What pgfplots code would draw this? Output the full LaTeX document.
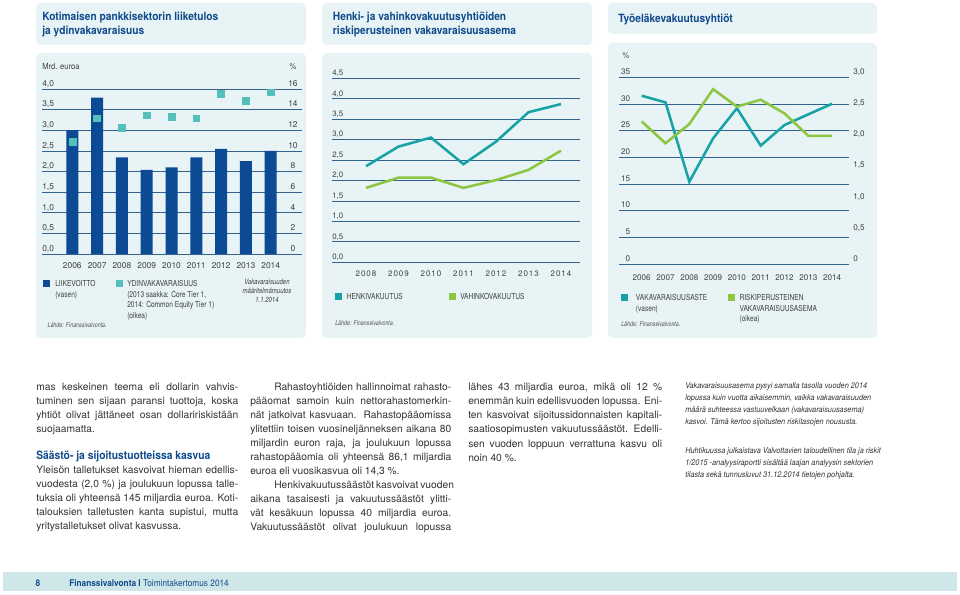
\documentclass[border=0pt]{standalone}
\usepackage{fontspec}
\setmainfont{TeX Gyre Heros}
\newfontfamily\cnd[FakeStretch=0.8]{TeX Gyre Heros}
\newfontfamily\ttl[FakeStretch=0.9]{TeX Gyre Heros}
\usepackage{pgfplots}
\pgfplotsset{compat=1.18}

\definecolor{panel}{HTML}{E7F3F5}
\definecolor{fbar}{HTML}{CFE7E9}
\definecolor{tblue}{HTML}{0F4A8C}
\definecolor{bar}{HTML}{0C4A94}
\definecolor{sq}{HTML}{55BFBC}
\definecolor{teal}{HTML}{17A3A5}
\definecolor{grn}{HTML}{8DC641}
\definecolor{gridc}{HTML}{33628F}
\definecolor{txt}{HTML}{333333}
\definecolor{lab}{HTML}{404040}
\definecolor{src}{HTML}{555555}

\newlength\pxu \setlength\pxu{0.75pt}

% fonts
\newcommand\fT{\ttl\bfseries\fontsize{8.5pt}{10pt}\selectfont}
\newcommand\fL{\cnd\fontsize{6.2pt}{7pt}\selectfont}
\newcommand\fS{\cnd\itshape\fontsize{5pt}{6pt}\selectfont}
\newcommand\fV{\cnd\itshape\fontsize{5.6pt}{6pt}\selectfont}
\newcommand\fB{\fontsize{7.7pt}{9pt}\selectfont}
\newcommand\fI{\ttl\itshape\fontsize{6.1pt}{7pt}\selectfont}
\newcommand\fC{\ttl\fontsize{6.3pt}{7pt}\selectfont}

% text lines, x/y in px
\newcommand\Tx[3]{\node[anchor=base west] at (#1,#2) {#3};}
\newcommand\Jl[4]{\node[anchor=base west] at (#1,#2) {\makebox[#3\pxu][s]{#4}};}

\pgfplotsset{
  pnl/.style={scale only axis, anchor=south west, clip=false,
    axis line style={draw=none}, tick style={draw=none}, major tick length=0pt,
    tick label style={font=\fontsize{6.3pt}{7pt}\selectfont, text=lab},
    yticklabel style={anchor=base west, inner sep=0pt, yshift=2pt},
    xticklabel style={anchor=base, inner sep=0pt, yshift=-11pt}},
  grd/.style={ymajorgrids, grid style={draw=gridc, line width=0.55pt}},
}

\begin{document}
\begin{tikzpicture}
\begin{scope}[x=0.75pt,y=-0.75pt]
\path[fill=white, use as bounding box] (0,0) rectangle (960,595);
% panels
\fill[panel, rounded corners=3.5pt] (36,3) rectangle (306,45);
\fill[panel, rounded corners=3.5pt] (36,53) rectangle (306,338);
\fill[panel, rounded corners=3.5pt] (322,3) rectangle (592,45);
\fill[panel, rounded corners=3.5pt] (322,53) rectangle (592,338);
\fill[panel, rounded corners=3.5pt] (608,3) rectangle (877,34);
\fill[panel, rounded corners=3.5pt] (608,43) rectangle (877,338);
% footer bar
\fill[fbar] (3,572) rectangle (957,591);
\end{scope}

% ---- panel 1: liiketulos (left) ----
\begin{axis}[pnl, grd, at={(31.5pt,-190.5pt)}, width=195pt, height=123.75pt,
  xmin=-1.222, xmax=9.262, ymin=0, ymax=4,
  ytick={0,0.5,1,1.5,2,2.5,3,3.5,4},
  yticklabels={{0,0},{0,5},{1,0},{1,5},{2,0},{2,5},{3,0},{3,5},{4,0}},
  xtick={0,1,2,3,4,5,6,7,8},
  xticklabels={2006,2007,2008,2009,2010,2011,2012,2013,2014},
  ybar, bar width=9pt]
\addplot[fill=bar, draw=none] coordinates {
  (0,3.00) (1,3.79) (2,2.34) (3,2.04) (4,2.10) (5,2.34) (6,2.55) (7,2.25) (8,2.50)};
\end{axis}
% ---- panel 1: ydinvakavaraisuus (right) ----
\begin{axis}[pnl, at={(31.5pt,-190.5pt)}, width=195pt, height=123.75pt,
  xmin=-1.222, xmax=9.262, ymin=0, ymax=16,
  ytick={0,2,4,6,8,10,12,14,16},
  yticklabels={0,2,4,6,8,10,12,14,16},
  yticklabel pos=right, yticklabel style={anchor=base, xshift=-6.75pt},
  xtick=\empty]
\addplot[only marks, mark=square*, mark size=2.6pt, color=sq] coordinates {
  (0,10.86) (1,13.16) (2,12.22) (3,13.45) (4,13.29) (5,13.16) (6,15.52) (7,14.87) (8,15.68)};
\end{axis}

% ---- panel 2 ----
\begin{axis}[pnl, grd, at={(249pt,-196.725pt)}, width=186pt, height=138pt,
  xmin=-1.046, xmax=6.585, ymin=0, ymax=4.5,
  ytick={0,0.5,1,1.5,2,2.5,3,3.5,4,4.5},
  yticklabels={{0,0},{0,5},{1,0},{1,5},{2,0},{2,5},{3,0},{3,5},{4,0},{4,5}},
  yticklabel style={font=\fontsize{5.9pt}{7pt}\selectfont},
  xtick={0,1,2,3,4,5,6},
  xticklabels={2008,2009,2010,2011,2012,2013,2014},
  xticklabel style={font=\fontsize{6pt}{7pt}\selectfont\addfontfeature{LetterSpace=12}}]
\addplot[teal, line width=1.9pt] coordinates {
  (0,2.35) (1,2.83) (2,3.05) (3,2.40) (4,2.95) (5,3.67) (6,3.87)};
\addplot[grn, line width=1.9pt] coordinates {
  (0,1.82) (1,2.07) (2,2.07) (3,1.82) (4,2.01) (5,2.26) (6,2.73)};
\end{axis}

% ---- panel 3: vakavaraisuusaste (left) ----
\begin{axis}[pnl, grd, at={(464.25pt,-198pt)}, width=172.5pt, height=140pt,
  xmin=-0.954, xmax=8.71, ymin=0, ymax=35,
  ytick={0,5,10,15,20,25,30,35},
  yticklabels={0,5,10,15,20,25,30,35},
  yticklabel style={anchor=base east, xshift=8.6pt},
  tick label style={font=\fontsize{6.1pt}{7pt}\selectfont},
  xticklabel style={yshift=-1.5pt},
  xtick={0,1,2,3,4,5,6,7,8},
  xticklabels={2006,2007,2008,2009,2010,2011,2012,2013,2014}]
\addplot[teal, line width=1.9pt] coordinates {
  (0,31.55) (1,30.3) (2,15.43) (3,23.56) (4,29.2) (5,22.2) (6,26.06) (7,28.06) (8,30.05)};
\end{axis}
% ---- panel 3: riskiperusteinen (right) ----
\begin{axis}[pnl, at={(464.25pt,-198pt)}, width=172.5pt, height=140pt,
  xmin=-0.954, xmax=8.71, ymin=0, ymax=3,
  ytick={0,0.5,1,1.5,2,2.5,3},
  yticklabels={0,{0,5},{1,0},{1,5},{2,0},{2,5},{3,0}},
  tick label style={font=\fontsize{6.1pt}{7pt}\selectfont},
  yticklabel pos=right, yticklabel style={anchor=base west, xshift=3pt},
  xtick=\empty]
\addplot[grn, line width=1.9pt] coordinates {
  (0,2.29) (1,1.94) (2,2.25) (3,2.81) (4,2.53) (5,2.64) (6,2.42) (7,2.06) (8,2.06)};
\end{axis}

\begin{scope}[x=0.75pt,y=-0.75pt, every node/.style={inner sep=0pt}]
% titles
\begin{scope}[font=\fT, text=tblue]
\Tx{42}{20.7}{Kotimaisen pankkisektorin liiketulos}
\Tx{42}{34.9}{ja ydinvakavaraisuus}
\Tx{332.7}{20.7}{Henki- ja vahinkovakuutusyhtiöiden}
\Tx{332.7}{34.9}{riskiperusteinen vakavaraisuusasema}
\Tx{618}{22.7}{Työeläkevakuutusyhtiöt}
\end{scope}

% panel 1 labels and legend
\begin{scope}[font=\fC, text=lab]
\Tx{42}{69.5}{Mrd. euroa}
\node[anchor=base] at (293,69.5) {\%};
\node[anchor=base] at (626,59) {\%};
\end{scope}
\fill[bar] (43,280) rectangle (50,287);
\fill[sq] (116,280) rectangle (123,287);
\begin{scope}[font=\fL, text=lab]
\Tx{55}{286.5}{LIIKEVOITTO}
\Tx{55}{297.2}{(vasen)}
\Tx{127}{286.5}{YDINVAKAVARAISUUS}
\Tx{127}{297.2}{(2013 saakka: Core Tier 1,}
\Tx{127}{307.9}{2014: Common Equity Tier 1)}
\Tx{127}{318.6}{(oikea)}
\end{scope}
\begin{scope}[font=\fV, text=lab]
\node[anchor=base] at (267,284.5) {Vakavaraisuuden};
\node[anchor=base] at (267,293.6) {määritelmämuutos};
\node[anchor=base] at (267,302.7) {1.1.2014};
\end{scope}

% panel 2 legend
\fill[teal] (334.5,293) rectangle (341.5,300);
\fill[grn] (448.5,293) rectangle (455.5,300);
\begin{scope}[font=\fL, text=lab]
\Tx{346.7}{299.5}{HENKIVAKUUTUS}
\Tx{460}{299.5}{VAHINKOVAKUUTUS}
\end{scope}

% panel 3 legend
\fill[teal] (620.5,294) rectangle (627.5,301);
\fill[grn] (727.5,294) rectangle (734.5,301);
\begin{scope}[font=\fL, text=lab]
\Tx{635.7}{300.3}{VAKAVARAISUUSASTE}
\Tx{635.7}{311}{(vasen)}
\Tx{739.3}{300.3}{RISKIPERUSTEINEN}
\Tx{739.3}{311}{VAKAVARAISUUSASEMA}
\Tx{739.3}{321.7}{(oikea)}
\end{scope}

% sources
\begin{scope}[font=\fS, text=src]
\Tx{47.3}{327.5}{Lähde: Finanssivalvonta.}
\Tx{335}{325.5}{Lähde: Finanssivalvonta.}
\Tx{621}{326.5}{Lähde: Finanssivalvonta.}
\end{scope}

% body text
\begin{scope}[font=\fB, text=txt]
% column 1
\Jl{36}{390.8}{202}{mas keskeinen teema eli dollarin vahvis-}
\Jl{36}{404.8}{202}{tuminen sen sijaan paransi tuottoja, koska}
\Jl{36}{418.8}{202}{yhtiöt olivat jättäneet osan dollaririskistään}
\Tx{36}{432.8}{suojaamatta.}
\node[anchor=base west, font=\ttl\bfseries\fontsize{8.6pt}{10pt}\selectfont, text=tblue] at (36,459.5) {Säästö- ja sijoitustuotteissa kasvua};
\Jl{36}{473.5}{202}{Yleisön talletukset kasvoivat hieman edellis-}
\Jl{36}{487.5}{202}{vuodesta (2,0 \%) ja joulukuun lopussa talle-}
\Jl{36}{501.5}{202}{tuksia oli yhteensä 145 miljardia euroa. Koti-}
\Jl{36}{515.5}{202}{talouksien talletusten kanta supistui, mutta}
\Tx{36}{529.5}{yritystalletukset olivat kasvussa.}
% column 2
\Jl{274}{390.8}{177}{Rahastoyhtiöiden hallinnoimat rahasto-}
\Jl{250}{404.7}{201}{pääomat samoin kuin nettorahastomerkin-}
\Jl{250}{418.7}{201}{nät jatkoivat kasvuaan. Rahastopääomissa}
\Jl{250}{432.6}{201}{ylitettiin toisen vuosineljänneksen aikana 80}
\Jl{250}{446.6}{201}{miljardin euron raja, ja joulukuun lopussa}
\Jl{250}{460.5}{201}{rahastopääomia oli yhteensä 86,1 miljardia}
\Tx{250}{474.4}{euroa eli vuosikasvua oli 14,3 \%.}
\Jl{274}{488.4}{177}{Henkivakuutussäästöt kasvoivat vuoden}
\Jl{250}{502.3}{201}{aikana tasaisesti ja vakuutussäästöt ylitti-}
\Jl{250}{516.3}{201}{vät kesäkuun lopussa 40 miljardia euroa.}
\Jl{250}{530.2}{201}{Vakuutussäästöt olivat joulukuun lopussa}
% column 3
\Jl{468}{390.2}{194}{lähes 43 miljardia euroa, mikä oli 12 \%}
\Jl{468}{404.4}{194}{enemmän kuin edellisvuoden lopussa. Eni-}
\Jl{468}{418.6}{194}{ten kasvoivat sijoitussidonnaisten kapitali-}
\Jl{468}{432.8}{194}{saatiosopimusten vakuutussäästöt. Edelli-}
\Jl{468}{447.0}{194}{sen vuoden loppuun verrattuna kasvu oli}
\Tx{468}{461.2}{noin 40 \%.}
\end{scope}
% column 4 (italic)
\begin{scope}[font=\fI, text=txt]
\Tx{685}{388.7}{Vakavaraisuusasema pysyi samalla tasolla vuoden 2014}
\Tx{685}{400.6}{lopussa kuin vuotta aikaisemmin, vaikka vakavaraisuuden}
\Tx{685}{412.5}{määrä suhteessa vastuuvelkaan (vakavaraisuusasema)}
\Tx{685}{424.4}{kasvoi. Tämä kertoo sijoitusten riskitasojen noususta.}
\Tx{685}{453.7}{Huhtikuussa julkaistava Valvottavien taloudellinen tila ja riskit}
\Tx{685}{465.6}{1/2015 -analyysiraportti sisältää laajan analyysin sektorien}
\Tx{685}{477.5}{tilasta sekä tunnusluvut 31.12.2014 tietojen pohjalta.}
\end{scope}

% footer
\begin{scope}[font=\ttl\fontsize{6.9pt}{8pt}\selectfont, text=tblue]
\node[anchor=base] at (38,586.5) {\bfseries 8};
\Tx{69}{586.5}{\textbf{Finanssivalvonta} \textbf{I} Toimintakertomus 2014}
\end{scope}
\end{scope}
\end{tikzpicture}
\end{document}
